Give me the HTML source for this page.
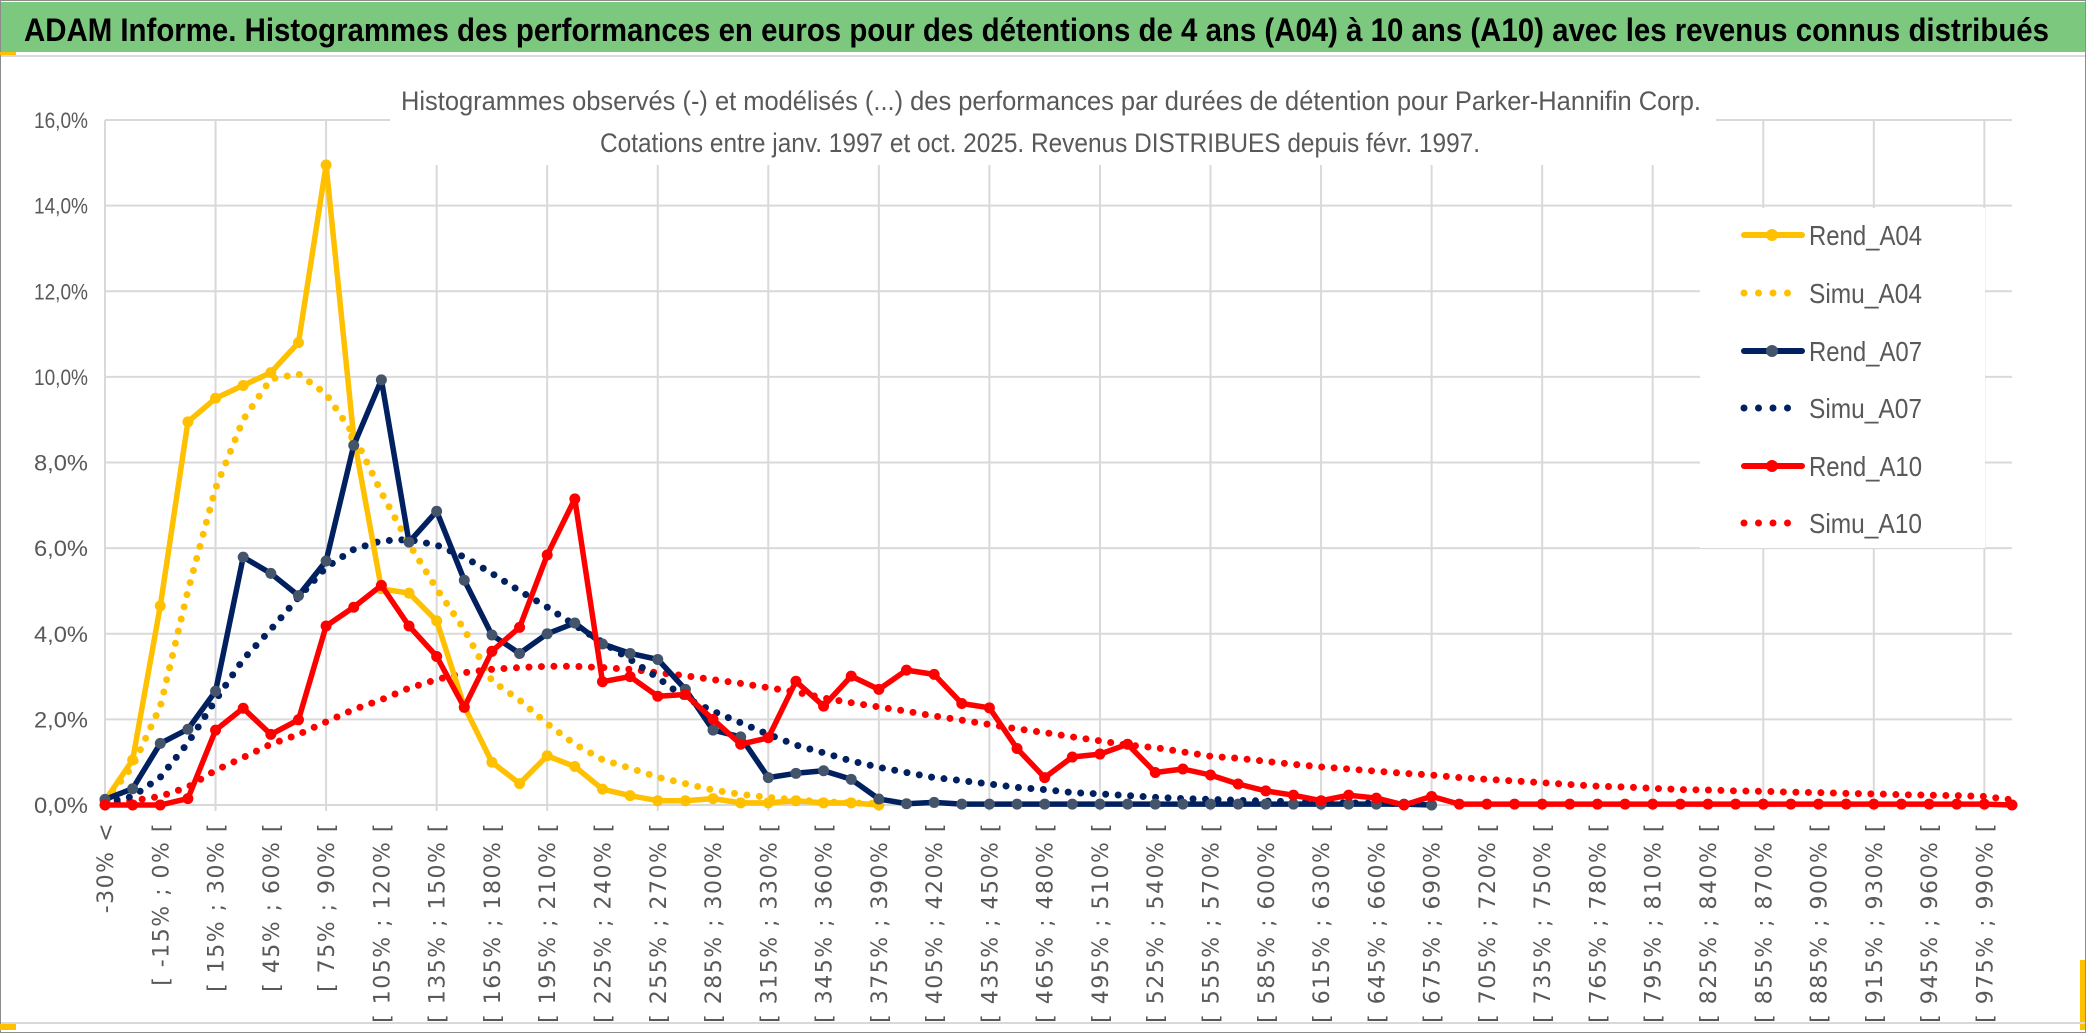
<!DOCTYPE html>
<html><head><meta charset="utf-8">
<style>
html,body{margin:0;padding:0;background:#fff;}
svg{display:block;}
text{font-family:"Liberation Sans",sans-serif;}
</style></head>
<body>
<svg id="chart" width="2086" height="1033" viewBox="0 0 2086 1033" xmlns="http://www.w3.org/2000/svg">
  <rect x="0" y="0" width="2086" height="1033" fill="#fff"/>
  <rect x="0.5" y="0.5" width="2085" height="1032" fill="none" stroke="#8c8c8c" stroke-width="1"/>
  <rect x="1" y="2" width="2084" height="50" fill="#7dc87f"/>
  <line x1="1" y1="56" x2="2085" y2="56" stroke="#d9d9d9" stroke-width="2"/>
  <rect x="0" y="52" width="16" height="3" fill="#ffc000"/>
  <rect x="0" y="1024" width="16" height="6" fill="#ffc000"/>
  <rect x="2080" y="960" width="5" height="70" fill="#ffc000"/>
  <line x1="1" y1="1023" x2="2085" y2="1023" stroke="#d9d9d9" stroke-width="2"/>
  <text x="24" y="41" font-size="32" font-weight="bold" fill="#000" textLength="2025" lengthAdjust="spacingAndGlyphs">ADAM Informe. Histogrammes des performances en euros pour des détentions de 4 ans (A04) à 10 ans (A10) avec les revenus connus distribués</text>
  <g id="grid"></g>
  <rect x="390" y="95" width="1326" height="70" fill="#fff"/>
  <rect x="1700" y="208" width="285" height="340" fill="#fff"/>
  <text x="1051" y="110" font-size="27" fill="#595959" text-anchor="middle" textLength="1300" lengthAdjust="spacingAndGlyphs">Histogrammes observés (-) et modélisés (...) des performances par durées de détention pour Parker-Hannifin Corp.</text>
  <text x="1040" y="152" font-size="27" fill="#595959" text-anchor="middle" textLength="880" lengthAdjust="spacingAndGlyphs">Cotations entre janv. 1997 et oct. 2025. Revenus DISTRIBUES depuis févr. 1997.</text>
  <g id="yticks"></g>
  <g id="xticks"></g>
  <g id="series"></g>
  <g id="legend"></g>
</svg>
<script>
var yTicks = [0,2,4,6,8,10,12,14,16];
var rendA04 = [0.1,1.05,4.65,8.95,9.5,9.8,10.1,10.8,14.95,8.6,5.05,4.95,4.3,2.3,1.0,0.5,1.15,0.9,0.37,0.22,0.1,0.1,0.15,0.05,0.05,0.1,0.05,0.05,0.0];
var simuA04 = [0.1,0.9,2.3,5.0,7.4,9.0,9.95,10.07,9.6,8.65,7.3,6.1,5.05,4.1,2.9,2.45,1.9,1.42,1.06,0.86,0.65,0.5,0.35,0.25,0.18,0.12,0.08,0.05,0.03];
var rendA07 = [0.13,0.38,1.44,1.77,2.66,5.79,5.41,4.89,5.7,8.4,9.93,6.14,6.86,5.25,3.97,3.54,4.0,4.25,3.76,3.54,3.4,2.7,1.75,1.59,0.64,0.74,0.8,0.6,0.14,0.03,0.06,0.02,0.02,0.02,0.02,0.02,0.02,0.02,0.02,0.02,0.02,0.02,0.02,0.02,0.02,0.02,0.02,0.02,0.0];
var simuA07 = [0.05,0.2,0.65,1.45,2.45,3.4,4.1,4.85,5.55,5.97,6.17,6.2,6.07,5.79,5.41,5.0,4.62,4.2,3.8,3.4,2.97,2.5,2.19,1.92,1.65,1.4,1.22,1.03,0.88,0.76,0.64,0.57,0.49,0.41,0.36,0.29,0.26,0.22,0.18,0.15,0.13,0.11,0.09,0.08,0.06,0.05,0.04,0.03,0.03];
var rendA10 = [0.0,0.0,0.0,0.15,1.75,2.26,1.65,1.99,4.18,4.62,5.13,4.18,3.47,2.28,3.59,4.15,5.84,7.15,2.88,3.0,2.54,2.58,2.0,1.42,1.57,2.89,2.31,3.01,2.7,3.15,3.05,2.37,2.27,1.32,0.64,1.12,1.19,1.42,0.76,0.84,0.7,0.49,0.33,0.23,0.1,0.23,0.16,0.0,0.2,0.02,0.02,0.02,0.02,0.02,0.02,0.02,0.02,0.02,0.02,0.02,0.02,0.02,0.02,0.02,0.02,0.02,0.02,0.02,0.02,0.0];
var simuA10 = [0.02,0.1,0.2,0.42,0.81,1.11,1.42,1.65,1.94,2.23,2.46,2.73,2.93,3.09,3.17,3.21,3.24,3.24,3.21,3.17,3.09,3.02,2.93,2.84,2.74,2.64,2.5,2.39,2.29,2.19,2.08,1.98,1.88,1.78,1.69,1.59,1.5,1.4,1.34,1.24,1.14,1.09,1.02,0.95,0.89,0.84,0.79,0.74,0.7,0.64,0.6,0.56,0.52,0.48,0.44,0.42,0.39,0.36,0.35,0.33,0.32,0.3,0.29,0.27,0.26,0.24,0.23,0.22,0.2,0.12];
var nCats = 70;
var catLabels = [];
for (var k = 0; k < nCats; k++) {
  if (k === 0) catLabels.push('-30% <');
  else catLabels.push('[ ' + (-45 + 15*k) + '% ; ' + (-30 + 15*k) + '% [');
}
var NS = 'http://www.w3.org/2000/svg';
var X0 = 105, XSTEP = (2012 - 105) / 69, Y0 = 805, YPER = (805 - 120) / 16;
function xs(i){ return X0 + i * XSTEP; }
function ys(v){ return Y0 - v * YPER; }
function mk(tag, attrs, parent){ var e = document.createElementNS(NS, tag); for (var a in attrs) e.setAttribute(a, attrs[a]); parent.appendChild(e); return e; }
var grid = document.getElementById('grid');
yTicks.forEach(function(t){
  var l = mk('line', {x1: X0, x2: xs(69), y1: ys(t), y2: ys(t), stroke: '#d9d9d9', 'stroke-width': 2}, grid);
  
  
});
for (var g = 0; g < nCats; g += 4) {
  var vl = mk('line', {x1: xs(g), x2: xs(g), y1: ys(16), y2: ys(0) + 6, stroke: '#d9d9d9', 'stroke-width': 2}, grid);
  
  
}
var yt = document.getElementById('yticks');
yTicks.forEach(function(t){
  var tx = mk('text', {x: 88, y: ys(t) + 8, 'font-size': 22, fill: '#595959', 'text-anchor': 'end', textLength: 54, lengthAdjust: 'spacingAndGlyphs'}, yt);
  tx.textContent = t.toFixed(1).replace('.', ',') + '%';
  
  
});
var xt = document.getElementById('xticks');
for (var i = 0; i < nCats; i += 2) {
  var x = xs(i) + 8, y = 822;
  var t = mk('text', {x: x, y: y, 'font-size': 22, fill: '#595959', 'text-anchor': 'end', transform: 'rotate(-90 ' + x + ' ' + y + ')', style: 'font-family:"DejaVu Sans",sans-serif;letter-spacing:1.5px'}, xt);
  t.textContent = catLabels[i];
  
  
}
var ser = document.getElementById('series');
function pts(arr){ return arr.map(function(v,i){ return xs(i).toFixed(1) + ',' + ys(v).toFixed(1); }).join(' '); }
function dotted(arr, color, name){
  var p = mk('polyline', {points: pts(arr), fill: 'none', stroke: color, 'stroke-width': 7, 'stroke-linecap': 'round', 'stroke-dasharray': '0 12.5'}, ser);
  
  
}
function solid(arr, color, mcolor, name){
  var p = mk('polyline', {points: pts(arr), fill: 'none', stroke: color, 'stroke-width': 5.5, 'stroke-linejoin': 'round'}, ser);
  
  
  arr.forEach(function(v,i){
    var c = mk('circle', {cx: xs(i), cy: ys(v), r: 5.5, fill: mcolor}, ser);
    
    
  });
}
dotted(simuA10, '#ff0000', 'simu-a10-line');
dotted(simuA07, '#002060', 'simu-a07-line');
dotted(simuA04, '#ffc000', 'simu-a04-line');
solid(rendA04, '#ffc000', '#ffc000', 'rend-a04-line');
solid(rendA07, '#002060', '#44546a', 'rend-a07-line');
solid(rendA10, '#ff0000', '#ff0000', 'rend-a10-line');
var leg = document.getElementById('legend');
var legItems = [['Rend_A04','#ffc000','#ffc000',false],['Simu_A04','#ffc000',null,true],['Rend_A07','#002060','#44546a',false],['Simu_A07','#002060',null,true],['Rend_A10','#ff0000','#ff0000',false],['Simu_A10','#ff0000',null,true]];
var legY = [235,293,351,408,466,523];
legItems.forEach(function(it, j){
  var y = legY[j];
  var g = mk('g', {}, leg);
  
  
  if (it[3]) {
    mk('line', {x1: 1744, x2: 1800, y1: y, y2: y, stroke: it[1], 'stroke-width': 7, 'stroke-linecap': 'round', 'stroke-dasharray': '0 14.5'}, g);
  } else {
    mk('line', {x1: 1744, x2: 1802, y1: y, y2: y, stroke: it[1], 'stroke-width': 6, 'stroke-linecap': 'round'}, g);
    mk('circle', {cx: 1772, cy: y, r: 6, fill: it[2]}, g);
  }
  var t = mk('text', {x: 1809, y: y + 10, 'font-size': 28, fill: '#595959', textLength: 113, lengthAdjust: 'spacingAndGlyphs'}, g);
  t.textContent = it[0];
});
</script>
</body></html>
